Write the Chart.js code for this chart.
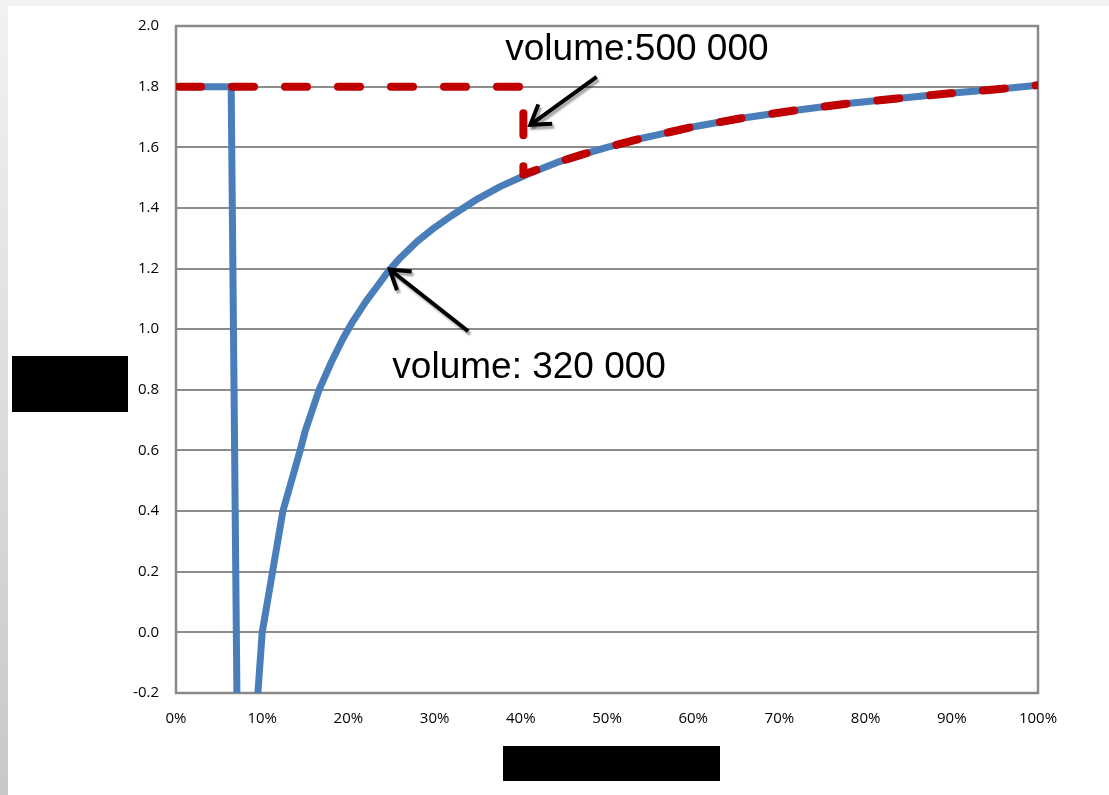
<!DOCTYPE html>
<html>
<head>
<meta charset="utf-8">
<script src="https://cdn.jsdelivr.net/npm/chart.js@4/dist/chart.umd.min.js"></script>
<style>
  html, body { margin: 0; padding: 0; background: #fff; }
  #wrap { position: relative; width: 1109px; height: 795px; overflow: hidden; background: #fff; }
  #topband { position: absolute; left: 0; top: 0; width: 1109px; height: 6px; background: #f2f2f2; }
  #sideband { position: absolute; left: 0; top: 0; width: 8px; height: 795px; background: linear-gradient(#f2f2f2, #c8c8c8); }
  canvas { position: absolute; left: 0; top: 0; }
</style>
</head>
<body>
<div id="wrap">
  <div id="topband"></div>
  <div id="sideband"></div>
  <canvas id="c" width="1109" height="795"></canvas>
</div>
<script>
// Blue curve: share (%) on x, ratio on y
const curveX = [0, 6.4, 7.6, 9.0, 10, 11.2, 12.4, 14.4, 15, 16.6, 18, 19.3, 20.5, 22, 23.3, 24.6, 26, 28, 30, 32, 35, 37.6, 40.7, 44.2, 47, 50, 53.8, 56.5, 59.6, 65.4, 72.4, 78.2, 84, 89.8, 95.6, 100];
const curveY = [1.8, 1.8, -1.8, -0.4, 0.0, 0.2, 0.4, 0.6, 0.665, 0.8, 0.89, 0.965, 1.025, 1.09, 1.14, 1.19, 1.235, 1.29, 1.335, 1.375, 1.43, 1.47, 1.51, 1.55, 1.575, 1.60, 1.628, 1.645, 1.665, 1.695, 1.724, 1.745, 1.762, 1.778, 1.792, 1.805];

// Red dashed path: flat at 1.8 up to 40.3 %, then drops onto the curve
const capX = [0, 40.3, 40.3, 44.2, 47, 50, 53.8, 56.5, 59.6, 65.4, 72.4, 78.2, 84, 89.8, 95.6, 100];
const capY = [1.8, 1.8, 1.51, 1.55, 1.575, 1.60, 1.628, 1.645, 1.665, 1.695, 1.724, 1.745, 1.762, 1.778, 1.792, 1.805];

// Axis ticks
const xTickValues = [0, 10, 20, 30, 40, 50, 60, 70, 80, 90, 100];
const xTickLabels = ['0%', '10%', '20%', '30%', '40%', '50%', '60%', '70%', '80%', '90%', '100%'];
const yTickValues = [-0.2, 0, 0.2, 0.4, 0.6, 0.8, 1.0, 1.2, 1.4, 1.6, 1.8, 2.0];
const yTickLabels = ['-0.2', '0.0', '0.2', '0.4', '0.6', '0.8', '1.0', '1.2', '1.4', '1.6', '1.8', '2.0'];

// Callouts (data units): text anchor, arrow tail, arrow tip
const calloutTexts = ['volume:500 000', 'volume: 320 000'];
const calloutTextAt = [[38.2, 1.888], [25.1, 0.839]];
const arrowTails = [[48.8, 1.832], [33.9, 0.993]];
const arrowTips = [[41.1, 1.674], [24.8, 1.197]];

// Solid boxes over the axis titles (pixels)
const axisTitleBoxes = [[12, 356, 116, 56], [503, 746, 217, 35]];

const toPoints = (xs, ys) => xs.map((x, i) => ({ x: x, y: ys[i] }));

const framePlugin = {
  id: 'frame',
  beforeDatasetsDraw(chart) {
    const { ctx, chartArea: a } = chart;
    ctx.save();
    ctx.strokeStyle = '#8a8a8a';
    ctx.lineWidth = 2.5;
    ctx.strokeRect(a.left, a.top, a.right - a.left, a.bottom - a.top);
    ctx.restore();
  }
};

const calloutPlugin = {
  id: 'callouts',
  afterDraw(chart) {
    const { ctx } = chart;
    const xs = chart.scales.x, ys = chart.scales.y;
    const px = p => [xs.getPixelForValue(p[0]), ys.getPixelForValue(p[1])];
    ctx.save();
    // arrows with soft drop shadow
    for (let i = 0; i < arrowTips.length; i++) {
      const [tx, ty] = px(arrowTails[i]);
      const [hx, hy] = px(arrowTips[i]);
      const ang = Math.atan2(hy - ty, hx - tx);
      const wing = 22, spread = Math.PI / 5.5;
      ctx.shadowColor = 'rgba(0,0,0,0.35)';
      ctx.shadowOffsetX = 2;
      ctx.shadowOffsetY = 3;
      ctx.shadowBlur = 2;
      ctx.strokeStyle = '#000';
      ctx.lineWidth = 4;
      ctx.lineCap = 'butt';
      ctx.lineJoin = 'miter';
      ctx.beginPath();
      ctx.moveTo(tx, ty);
      ctx.lineTo(hx, hy);
      ctx.stroke();
      ctx.beginPath();
      ctx.moveTo(hx - wing * Math.cos(ang - spread), hy - wing * Math.sin(ang - spread));
      ctx.lineTo(hx, hy);
      ctx.lineTo(hx - wing * Math.cos(ang + spread), hy - wing * Math.sin(ang + spread));
      ctx.stroke();
    }
    ctx.shadowColor = 'transparent';
    ctx.fillStyle = '#000';
    ctx.font = '37px "Liberation Sans", Arial, sans-serif';
    ctx.textAlign = 'left';
    ctx.textBaseline = 'alphabetic';
    for (let i = 0; i < calloutTexts.length; i++) {
      const [x, y] = px(calloutTextAt[i]);
      ctx.fillText(calloutTexts[i], x, y);
    }
    // title boxes
    ctx.fillStyle = '#000';
    axisTitleBoxes.forEach(b => ctx.fillRect(b[0], b[1], b[2], b[3]));
    ctx.restore();
  }
};

const tickFont = { family: '"Open Sans", sans-serif', size: 15 };

new Chart(document.getElementById('c'), {
  type: 'line',
  data: {
    datasets: [
      {
        label: 'cap',
        data: toPoints(capX, capY),
        borderColor: '#c00000',
        borderWidth: 8,
        borderDash: [22, 31],
        borderDashOffset: -3,
        borderCapStyle: 'round',
        borderJoinStyle: 'round',
        pointRadius: 0,
        tension: 0,
        fill: false,
        clip: 0
      },
      {
        label: 'curve',
        data: toPoints(curveX, curveY),
        borderColor: '#4a7ebb',
        borderWidth: 7,
        borderCapStyle: 'round',
        borderJoinStyle: 'round',
        pointRadius: 0,
        tension: 0,
        fill: false,
        clip: 0
      }
    ]
  },
  options: {
    responsive: false,
    animation: false,
    events: [],
    layout: { padding: { left: 0, right: 71, top: 24, bottom: 52 } },
    plugins: { legend: { display: false }, tooltip: { enabled: false }, title: { display: false } },
    scales: {
      x: {
        type: 'linear',
        min: 0,
        max: 100,
        afterFit: s => { s.height = 50; },
        afterBuildTicks: s => { s.ticks = xTickValues.map(v => ({ value: v })); },
        grid: { display: false, drawTicks: false },
        border: { display: false },
        ticks: {
          padding: 17,
          color: '#000',
          font: tickFont,
          maxRotation: 0,
          autoSkip: false,
          callback: (v, i) => xTickLabels[i]
        }
      },
      y: {
        type: 'linear',
        min: -0.2,
        max: 2.0,
        afterFit: s => { s.width = 176; },
        afterBuildTicks: s => { s.ticks = yTickValues.map(v => ({ value: v })); },
        grid: { color: '#8c8c8c', lineWidth: 2, drawTicks: false },
        border: { display: false },
        ticks: {
          padding: 17,
          color: '#000',
          font: tickFont,
          autoSkip: false,
          callback: (v, i) => yTickLabels[i]
        }
      }
    }
  },
  plugins: [framePlugin, calloutPlugin]
});
</script>
</body>
</html>
